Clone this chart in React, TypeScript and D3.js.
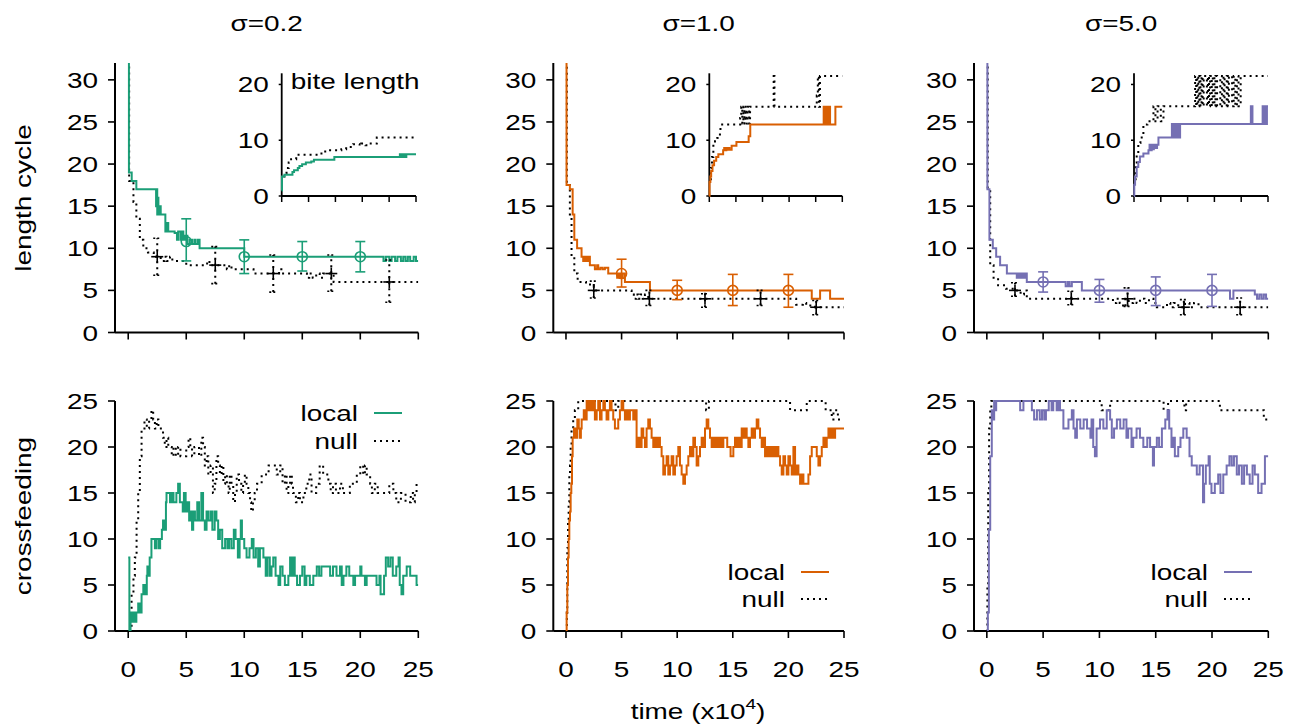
import React from 'react';
import * as d3 from 'd3';

type P = [number, number];

// ---------------- labels / ticks ----------------
const titles = ['σ=0.2', 'σ=1.0', 'σ=5.0'];
const colors = ['#1b9e77', '#d95f02', '#7570b3'];
const timeTicks = [0, 5, 10, 15, 20, 25];
const lenTicks = [0, 5, 10, 15, 20, 25, 30];
const crossTicks = [0, 5, 10, 15, 20, 25];
const biteTicks = [0, 10, 20];
const legendLabels = ['local', 'null'];

// ---------------- length cycle (top) ----------------
const lenLocal02: P[] = [[0,45],[0.06,19],[0.3,18],[0.7,17],[2.4,15],[2.45,17],[2.5,14],[2.55,16],[2.6,14],[2.75,15],[2.8,14],[3.2,12],[3.3,13],[3.45,12],[4.0,11.8],[4.2,11],[4.3,12],[4.5,11],[4.6,12],[4.75,11],[4.9,11.5],[5.1,10.5],[5.3,11],[5.5,10.5],[5.7,11],[5.8,10.5],[6.0,11],[6.15,10],[10.0,9],[22.0,8.5],[22.2,9],[22.5,8.5],[22.7,9],[23.0,8.5],[23.2,9],[23.5,8.5],[23.7,9],[23.9,8.5],[24.1,9],[24.3,8.5],[24.6,9],[24.8,8.5],[25,8.5]];
const lenNull02: P[] = [[0,45],[0.08,18],[0.45,15.5],[0.7,13.5],[1.0,11],[1.3,10],[1.7,9.5],[2.2,9],[2.8,8.5],[3.1,9],[3.3,8.5],[3.6,9],[3.8,8.5],[5.0,8],[6.8,8.5],[7.0,8],[8.5,7.5],[8.7,8],[8.9,7.5],[10.8,7],[13.0,7.5],[13.2,7],[15.4,6.5],[15.6,7],[15.9,6.5],[16.2,7],[16.5,6.5],[16.8,7],[17.7,6],[25,6]];
const lenLocal10: P[] = [[0,45],[0.05,17.5],[0.35,17],[0.6,14],[0.75,11],[1.0,10],[1.4,9],[1.55,8.5],[1.65,9],[1.75,8.5],[1.85,9],[1.95,8.5],[2.05,9],[2.15,8],[2.6,7.5],[2.8,8],[2.9,7.5],[3.1,7.7],[3.3,7.5],[3.5,7.7],[3.8,7],[4.6,6.5],[4.7,7],[4.8,6.5],[4.9,7],[5.0,6.5],[5.1,7],[5.3,6],[7.55,5],[22.1,4],[22.85,5],[23.75,4],[25,4]];
const lenNull10: P[] = [[0,45],[0.08,17.5],[0.35,14],[0.5,9],[0.75,7],[1.05,6],[1.8,5.7],[2.5,5],[5.9,4.5],[6.1,4],[6.3,4.5],[6.5,4],[6.7,4.5],[6.9,4],[7.1,4.5],[7.4,4],[20.7,3.3],[21.3,3.5],[21.6,3.2],[22.4,3],[25,3]];
const lenLocal50: P[] = [[0,45],[0.05,17],[0.23,11],[0.53,10],[0.83,9],[1.18,8],[1.78,7],[2.66,6.5],[2.8,7],[2.95,6.5],[3.1,7],[3.25,6.5],[3.4,7],[3.55,6],[7.0,5.5],[7.2,6],[7.35,5.5],[7.55,6],[8.44,5],[21.6,4],[21.9,5],[23.8,4.5],[24.0,4],[24.2,4.5],[24.4,4],[24.6,4.5],[24.8,4],[25,4]];
const lenNull50: P[] = [[0,45],[0.08,17],[0.3,8],[0.6,6.5],[1.0,5.6],[1.7,5.2],[2.4,5],[3.0,4.5],[3.3,5],[3.55,4],[11.2,3.5],[11.5,4],[11.8,3.5],[12.1,3],[12.3,4],[12.6,3.5],[13.0,4],[13.3,3.5],[13.6,4],[14.0,3.5],[14.4,4],[14.8,3.5],[15.1,3],[16.0,3.5],[16.3,3],[16.6,3.5],[17.0,3],[17.6,3.5],[18.0,3],[18.4,3.5],[18.8,3],[25,3]];

const localMarkT = [5, 10, 15, 20];
const nullMarkT = [2.5, 7.5, 12.5, 17.5, 22.5];
const localMean02 = [10.8, 9, 9, 9];
const localLo02 = [8.5, 7, 7.3, 7.2];
const localHi02 = [13.5, 11, 10.8, 10.8];
const nullMean02 = [9, 8, 7, 7, 6];
const nullLo02 = [6.8, 5.8, 4.8, 4.9, 3.6];
const nullHi02 = [11.2, 10.2, 9.2, 9.2, 8.6];
const localMean10 = [7, 5, 5, 5];
const localLo10 = [5.4, 3.9, 3.2, 3.0];
const localHi10 = [8.7, 6.2, 6.9, 6.9];
const nullMean10 = [5, 4, 4, 4, 3];
const nullLo10 = [4.1, 3.2, 3.0, 3.2, 2.1];
const nullHi10 = [6.1, 5, 4.6, 5, 3.8];
const localMean50 = [6, 5, 5, 5];
const localLo50 = [4.8, 3.6, 3.2, 3.1];
const localHi50 = [7.2, 6.3, 6.6, 6.9];
const nullMean50 = [5, 4, 4, 3, 3];
const nullLo50 = [4.3, 3.3, 3.1, 2.1, 2.1];
const nullHi50 = [5.9, 4.9, 5.3, 3.9, 4.1];

// ---------------- bite length (insets) ----------------
const biteLocal02: P[] = [[0,1],[0.05,3.5],[0.5,3.8],[2.0,4.3],[2.3,4.6],[3.0,5.0],[3.3,5.4],[3.8,5.7],[4.5,6.0],[5.5,6.2],[6.0,6.5],[9.8,7.0],[22.0,7.5],[22.3,7.0],[22.6,7.5],[22.9,7.0],[23.2,7.5],[25,7.5]];
const biteNull02: P[] = [[0.3,3.5],[0.5,4.0],[0.9,5.0],[1.3,6.0],[1.75,6.6],[2.7,7.4],[7.4,8.0],[8.3,8.2],[11.1,8.4],[12.0,8.8],[13.3,9.3],[14.5,9.0],[14.8,9.4],[15.6,9.1],[16.0,9.4],[17.7,10.5],[25,10.5]];
const biteLocal10: P[] = [[0,0],[0.05,2.5],[0.2,3.5],[0.35,4.5],[0.6,5.5],[0.9,6.3],[1.3,7.0],[1.7,7.5],[2.6,8.2],[2.8,8.6],[3.0,8.2],[3.2,8.6],[3.4,8.3],[3.6,8.6],[3.8,8.3],[4.2,9],[5.1,9.7],[7.4,10.7],[7.7,12.8],[21.5,16],[21.8,12.8],[22.0,16],[22.3,12.8],[22.5,16],[22.7,12.8],[23.7,16],[25,16]];
const biteNull10: P[] = [[0.1,3],[0.3,5],[0.5,7],[0.76,9],[1.07,9.8],[1.5,10.4],[2.0,11.5],[2.1,12.8],[5.8,14],[6.0,16],[6.2,13],[6.4,16],[6.6,13],[6.8,16],[7.0,13],[7.2,16],[7.5,13],[7.66,16],[12.1,21.5],[12.25,16],[20.2,18],[20.4,21.5],[20.6,16],[20.8,21.5],[21.1,21.5],[25,21.5]];
const biteLocal50: P[] = [[0,0],[0.05,2],[0.2,3.5],[0.5,5.2],[0.8,6.1],[1.1,7.1],[1.75,7.6],[2.7,8.2],[2.9,9.2],[3.1,8.2],[3.3,9.2],[3.5,8.4],[3.7,9.2],[4.0,8.6],[4.3,9.2],[4.56,10.5],[7.07,12.9],[7.3,10.5],[7.6,12.9],[7.9,10.5],[8.2,12.9],[8.4,10.5],[8.6,12.9],[21.8,16.1],[22.1,12.9],[24.0,16.1],[24.2,12.9],[24.4,16.1],[24.6,12.9],[24.8,16.1],[25,16.1]];
const biteNull50: P[] = [[0.1,3],[0.3,6],[0.5,7.7],[0.8,9.5],[1.2,10.5],[1.75,12.8],[2.5,13.4],[3.63,16.1],[4.0,13.4],[4.4,16.1],[5.0,13.4],[5.5,16.1],[11.4,21.5],[11.6,16.1],[11.8,21.5],[12.0,16.1],[12.2,21.5],[12.4,16.1],[12.6,21.5],[12.8,16.1],[13.0,21.5],[13.6,16.1],[13.8,21.5],[14.0,16.1],[14.2,21.5],[14.5,16.1],[14.7,21.5],[15.0,16.1],[15.2,21.5],[15.5,16.1],[16.1,21.5],[16.4,16.1],[16.7,21.5],[16.9,16.1],[17.3,21.5],[17.5,16.1],[17.7,21.5],[18.3,16.1],[18.6,21.5],[18.9,16.1],[19.2,21.5],[19.5,16.1],[19.9,21.5],[25,21.5]];

// ---------------- crossfeeding (bottom) ----------------
const crossLocal02: P[] = [[0,8],[0.1,0],[0.2,2],[0.35,1],[0.45,2],[0.6,1],[0.7,2],[0.86,3],[1.0,2],[1.15,4],[1.3,5],[1.45,4],[1.6,6],[1.65,7],[1.75,6],[1.85,8],[2.0,10],[2.3,9],[2.45,10],[2.65,9],[2.75,10],[2.9,11],[3.0,12],[3.15,11],[3.25,14],[3.3,15],[3.6,14],[3.75,15],[3.9,14],[4.15,15],[4.3,16],[4.45,14],[4.7,13],[4.8,15],[4.95,13],[5.1,14],[5.25,12],[5.4,13],[5.5,11],[5.6,13],[5.75,12],[5.95,14],[6.1,12],[6.3,15],[6.45,12],[6.6,11],[6.75,13],[6.9,12],[7.1,13],[7.25,11],[7.45,13],[7.6,12],[7.75,10],[7.9,11],[8.1,9],[8.35,10],[8.55,9],[8.7,10],[8.9,9],[9.1,11],[9.25,10],[9.45,8],[9.6,10],[9.7,12],[9.8,10],[10.0,9],[10.2,8],[10.45,9],[10.65,10],[10.8,8],[11.0,9],[11.2,7],[11.35,9],[11.65,8],[11.85,6],[12.0,8],[12.2,6],[12.35,7],[12.5,8],[12.7,6],[12.95,5],[13.1,7],[13.3,6],[13.5,5],[13.8,6],[13.95,8],[14.1,6],[14.2,8],[14.35,6],[14.55,5],[14.8,6],[15.0,7],[15.2,5],[15.35,6],[15.65,5],[15.95,6],[16.25,7],[16.45,6],[16.65,7],[17.4,6],[17.65,7],[17.95,6],[18.25,7],[18.4,5],[18.55,6],[18.8,7],[19.05,6],[19.4,5],[19.55,6],[20.0,7],[20.1,6],[20.4,5],[20.55,6],[21.4,5],[21.65,6],[21.75,4],[22.05,6],[22.2,8],[22.4,7],[22.6,8],[22.8,6],[23.1,7],[23.3,8],[23.4,5],[23.55,4],[23.7,6],[24.0,7],[24.3,6],[24.85,5],[25,5]];
const crossNull02: P[] = [[0.14,0],[0.29,4],[0.45,6],[0.57,8],[0.72,12],[0.86,15],[1.0,19],[1.15,22],[1.4,23],[1.6,22],[1.8,23],[2.0,24],[2.15,23],[2.3,22],[2.45,23],[2.6,22],[2.8,22],[3.0,21],[3.15,20],[3.3,21],[3.45,20],[3.6,20],[3.75,19],[3.9,20],[4.1,19],[4.3,20],[4.5,19],[4.75,19],[5.0,20],[5.2,21],[5.35,20],[5.5,19],[5.7,20],[5.9,20],[6.1,19],[6.3,21],[6.45,20],[6.6,18],[6.75,19],[6.9,17],[7.1,18],[7.3,15],[7.45,16],[7.6,19],[7.75,18],[7.9,17],[8.05,18],[8.2,16],[8.35,17],[8.5,16],[8.65,15],[8.75,17],[8.9,16],[9.05,14],[9.2,15],[9.35,17],[9.55,16],[9.75,15],[9.9,16],[10.05,17],[10.2,16],[10.35,15],[10.5,14],[10.6,13],[10.75,14],[10.9,15],[11.1,16],[11.35,16],[11.5,17],[11.8,17],[12.1,18],[12.5,18],[12.8,17],[13.1,18],[13.3,16],[13.5,17],[13.65,15],[13.8,16],[13.95,17],[14.1,16],[14.2,15],[14.45,14],[14.65,15],[14.8,14],[15.1,15],[15.35,16],[15.6,17],[15.8,15],[16.2,16],[16.5,18],[16.8,17],[17.25,16],[17.45,15],[17.65,16],[17.9,15],[18.25,16],[18.5,15],[19.1,16],[19.7,17],[20.0,18],[20.25,17],[20.4,18],[20.55,17],[20.85,16],[21.0,15],[21.25,16],[21.5,15],[22.5,16],[22.85,15],[23.1,14],[23.5,15],[23.9,14],[24.35,15],[24.55,14],[24.7,15],[24.85,16],[25,16]];
const crossLocal10: P[] = [[0,0],[0.06,2],[0.12,5],[0.18,8],[0.24,10],[0.3,12],[0.36,13],[0.42,15],[0.48,16],[0.54,19],[0.6,21],[0.72,22],[0.9,21],[1.02,23],[1.15,22],[1.26,21],[1.34,22],[1.41,23],[1.6,24],[1.71,23],[1.86,25],[2.0,24],[2.16,25],[2.3,24],[2.46,25],[2.6,23],[2.76,24],[2.9,25],[3.06,23],[3.2,24],[3.36,25],[3.5,24],[3.65,23],[3.81,24],[3.95,25],[4.1,24],[4.25,23],[4.4,22],[4.7,23],[4.85,24],[5.0,25],[5.15,24],[5.3,23],[5.45,24],[5.6,23],[5.75,24],[6.05,23],[6.2,24],[6.35,20],[6.5,21],[6.65,20],[6.8,22],[6.95,21],[7.1,20],[7.25,22],[7.4,23],[7.55,22],[7.7,21],[7.85,20],[8.0,21],[8.15,20],[8.3,21],[8.45,20],[8.6,19],[8.75,17],[8.9,18],[9.05,19],[9.2,17],[9.35,18],[9.5,19],[9.65,17],[9.8,18],[9.95,19],[10.1,20],[10.25,18],[10.4,17],[10.55,16],[10.7,17],[10.85,18],[11.0,19],[11.15,20],[11.3,19],[11.45,21],[11.6,20],[11.75,18],[11.9,19],[12.05,20],[12.2,21],[12.35,20],[12.5,22],[12.65,23],[12.8,22],[12.95,21],[13.1,20],[13.25,21],[13.4,20],[13.55,21],[13.7,20],[13.85,21],[14.0,20],[14.15,21],[14.5,20],[14.8,19],[15.05,20],[15.2,21],[15.35,20],[15.5,21],[15.65,20],[15.8,22],[15.95,21],[16.1,22],[16.25,21],[16.4,20],[16.55,21],[16.7,22],[16.85,21],[17.0,22],[17.15,23],[17.3,22],[17.45,21],[17.6,20],[17.75,21],[17.9,19],[18.05,20],[18.2,19],[18.35,20],[18.5,19],[18.65,20],[18.8,19],[18.95,20],[19.1,19],[19.25,18],[19.4,17],[19.55,19],[19.7,18],[19.85,17],[20.0,19],[20.15,18],[20.3,17],[20.45,20],[20.6,17],[20.75,18],[20.9,17],[21.05,16],[21.2,17],[21.35,16],[21.8,17],[21.95,19],[22.1,20],[22.55,19],[22.7,18],[22.85,19],[23.0,20],[23.15,21],[23.3,20],[23.45,21],[23.6,22],[23.75,21],[23.9,22],[24.05,21],[24.2,22],[25,22]];
const crossNull10: P[] = [[0,0],[0.08,2],[0.12,9],[0.18,12],[0.24,14],[0.3,17],[0.36,18],[0.42,20],[0.5,22],[0.65,23],[0.8,24],[1.1,25],[4.45,24],[4.7,25],[12.6,24],[12.85,25],[20.15,24],[21.65,25],[23.35,24],[23.9,23],[24.05,24],[24.45,23],[25,23]];
const crossLocal50: P[] = [[0,0],[0.09,2],[0.18,11],[0.3,19],[0.44,24],[0.53,23],[0.65,25],[0.74,24],[0.83,25],[2.96,24],[3.25,25],[4.0,24],[4.2,23],[4.45,24],[4.7,23],[4.9,24],[5.1,23],[5.25,24],[5.5,25],[5.75,24],[5.9,25],[6.2,24],[6.35,25],[6.5,24],[6.8,22],[7.25,23],[7.55,24],[7.7,22],[7.85,21],[8.0,23],[8.3,22],[8.6,23],[8.9,22],[9.2,21],[9.3,23],[9.45,20],[9.6,19],[9.75,22],[10.05,23],[10.35,22],[10.65,24],[10.95,23],[11.1,21],[11.3,22],[11.55,23],[11.85,22],[12.15,23],[12.4,21],[12.55,22],[12.85,20],[13.0,21],[13.3,22],[13.6,21],[13.9,20],[14.25,21],[14.5,20],[14.75,18],[14.85,20],[15.1,21],[15.3,20],[15.55,22],[15.85,23],[16.05,24],[16.2,22],[16.4,20],[16.55,21],[16.7,19],[17.0,20],[17.2,21],[17.45,22],[17.75,21],[18.0,19],[18.2,18],[18.65,17],[18.9,18],[19.2,14],[19.3,16],[19.45,18],[19.7,19],[19.8,16],[19.95,15],[20.25,16],[20.55,17],[20.75,15],[21.0,17],[21.3,18],[21.55,19],[21.75,18],[21.95,19],[22.2,17],[22.4,18],[22.65,16],[22.85,18],[23.1,17],[23.35,16],[23.6,18],[23.8,17],[24.1,15],[24.4,16],[24.7,19],[25,19]];
const crossNull50: P[] = [[0,0],[0.05,5],[0.12,15],[0.2,22],[0.3,24],[0.4,25],[10.2,24],[10.95,25],[15.7,24],[16.1,25],[17.55,24],[17.7,25],[20.7,24],[24.6,23],[25,23]];

// ---------------- layout ----------------
const FONT = "'Liberation Sans', Arial, Helvetica, sans-serif";
const FS = 22;
const SX = 1.27;
const panelLeft = [115, 553.3, 974];
const panelRight = [418.3, 844, 1268.3];
const insetLeft = [281.7, 709.3, 1134];
const insetRight = [416, 842.3, 1268];
const TOP_Y: [number, number] = [332.5, 63];
const BOT_Y: [number, number] = [631, 401];
const INS_Y: [number, number] = [196, 73.3];
const legendX = [358, 785, 1208];
const legendY = [[413, 441], [572, 599], [572, 599]];

const lenSeries = [
  { local: lenLocal02, nul: lenNull02, lm: localMean02, ll: localLo02, lh: localHi02, nm: nullMean02, nl: nullLo02, nh: nullHi02, bl: biteLocal02, bn: biteNull02 },
  { local: lenLocal10, nul: lenNull10, lm: localMean10, ll: localLo10, lh: localHi10, nm: nullMean10, nl: nullLo10, nh: nullHi10, bl: biteLocal10, bn: biteNull10 },
  { local: lenLocal50, nul: lenNull50, lm: localMean50, ll: localLo50, lh: localHi50, nm: nullMean50, nl: nullLo50, nh: nullHi50, bl: biteLocal50, bn: biteNull50 },
];
const crossSeries = [
  { local: crossLocal02, nul: crossNull02 },
  { local: crossLocal10, nul: crossNull10 },
  { local: crossLocal50, nul: crossNull50 },
];

const DOT = '2,4';
const DOTW = 2;

function Label({ x, y, anchor = 'middle', rotate = 0, size = FS, children }: any) {
  return (
    <text
      transform={`translate(${x},${y}) rotate(${rotate}) scale(${SX},1)`}
      textAnchor={anchor}
      fontSize={size}
      fontFamily={FONT}
      fill="#000"
    >
      {children}
    </text>
  );
}

function stepPath(data: P[], x: any, y: any) {
  const line = d3
    .line<P>()
    .x((d) => x(d[0]))
    .y((d) => y(d[1]))
    .curve(d3.curveStepAfter);
  return line(data) || '';
}

function Axes({ x, y, xTicks, yTicks, showXLabels, yLabelGap = 17, tick = 7 }: any) {
  const [x0, x1] = x.range();
  const [y0, y1] = y.range();
  return (
    <g>
      <line x1={x0} x2={x0} y1={y0} y2={y1} stroke="#000" strokeWidth={2} />
      <line x1={x0} x2={x1} y1={y0} y2={y0} stroke="#000" strokeWidth={2} />
      {xTicks.map((t: number) => (
        <line key={'xt' + t} x1={x(t)} x2={x(t)} y1={y0} y2={y0 + tick} stroke="#000" strokeWidth={1.6} />
      ))}
      {yTicks.map((t: number) => (
        <line key={'yt' + t} x1={x0 - tick} x2={x0} y1={y(t)} y2={y(t)} stroke="#000" strokeWidth={1.6} />
      ))}
      {yTicks.map((t: number) => (
        <Label key={'yl' + t} x={x0 - yLabelGap} y={y(t) + 8} anchor="end">
          {t}
        </Label>
      ))}
      {showXLabels &&
        xTicks.map((t: number) => (
          <Label key={'xl' + t} x={x(t)} y={677}>
            {t}
          </Label>
        ))}
    </g>
  );
}

export default function App() {
  return (
    <svg
      width={1289}
      height={728}
      viewBox="0 0 1289 728"
      style={{ position: 'absolute', left: 0, top: 0, background: '#fff' }}
    >
      <rect x={0} y={0} width={1289} height={728} fill="#fff" />
      <defs>
        {[0, 1, 2].map((i) => (
          <React.Fragment key={i}>
            <clipPath id={`clipTop${i}`}>
              <rect x={panelLeft[i]} y={TOP_Y[1]} width={panelRight[i] - panelLeft[i]} height={TOP_Y[0] - TOP_Y[1]} />
            </clipPath>
            <clipPath id={`clipBot${i}`}>
              <rect x={panelLeft[i]} y={BOT_Y[1] - 2} width={panelRight[i] - panelLeft[i]} height={BOT_Y[0] - BOT_Y[1] + 2} />
            </clipPath>
          </React.Fragment>
        ))}
      </defs>

      {[0, 1, 2].map((i) => {
        const color = colors[i];
        const s = lenSeries[i];
        const c = crossSeries[i];
        const x = d3.scaleLinear().domain([-1.14, 25]).range([panelLeft[i], panelRight[i]]);
        const yT = d3.scaleLinear().domain([0, 32]).range(TOP_Y);
        const yB = d3.scaleLinear().domain([0, 25]).range(BOT_Y);
        const xi = d3.scaleLinear().domain([0, 25]).range([insetLeft[i], insetRight[i]]);
        const yi = d3.scaleLinear().domain([0, 22]).range(INS_Y);
        const cx = (panelLeft[i] + panelRight[i]) / 2;
        return (
          <g key={i}>
            <Label x={cx} y={31}>{titles[i]}</Label>

            {/* top panel: length cycle */}
            <Axes x={x} y={yT} xTicks={timeTicks} yTicks={lenTicks} showXLabels={false} />
            <g clipPath={`url(#clipTop${i})`}>
              <path d={stepPath(s.nul, x, yT)} fill="none" stroke="#000" strokeWidth={DOTW} strokeDasharray={DOT} />
              <path d={stepPath(s.local, x, yT)} fill="none" stroke={color} strokeWidth={2} />
            </g>
            {nullMarkT.map((t, k) => (
              <g key={'nm' + k} stroke="#000" strokeWidth={1.6} fill="none">
                <line x1={x(t)} x2={x(t)} y1={yT(s.nl[k])} y2={yT(s.nh[k])} strokeDasharray={DOT} strokeWidth={DOTW} />
                <line x1={x(t) - 4} x2={x(t) + 4} y1={yT(s.nl[k])} y2={yT(s.nl[k])} strokeDasharray="2,2" />
                <line x1={x(t) - 4} x2={x(t) + 4} y1={yT(s.nh[k])} y2={yT(s.nh[k])} strokeDasharray="2,2" />
                <line x1={x(t) - 6} x2={x(t) + 6} y1={yT(s.nm[k])} y2={yT(s.nm[k])} />
                <line x1={x(t)} x2={x(t)} y1={yT(s.nm[k]) - 6} y2={yT(s.nm[k]) + 6} />
              </g>
            ))}
            {localMarkT.map((t, k) => (
              <g key={'lm' + k} stroke={color} strokeWidth={1.6} fill="none">
                <line x1={x(t)} x2={x(t)} y1={yT(s.ll[k])} y2={yT(s.lh[k])} />
                <line x1={x(t) - 5} x2={x(t) + 5} y1={yT(s.ll[k])} y2={yT(s.ll[k])} />
                <line x1={x(t) - 5} x2={x(t) + 5} y1={yT(s.lh[k])} y2={yT(s.lh[k])} />
                <circle cx={x(t)} cy={yT(s.lm[k])} r={5} />
              </g>
            ))}

            {/* inset: bite length */}
            <g>
              <line x1={xi(0)} x2={xi(0)} y1={yi(0)} y2={yi(22)} stroke="#000" strokeWidth={1.8} />
              <line x1={xi(0)} x2={xi(25)} y1={yi(0)} y2={yi(0)} stroke="#000" strokeWidth={1.8} />
              {timeTicks.map((t) => (
                <line key={'it' + t} x1={xi(t)} x2={xi(t)} y1={yi(0)} y2={yi(0) + 6} stroke="#000" strokeWidth={1.5} />
              ))}
              {biteTicks.map((t) => (
                <line key={'iy' + t} x1={xi(0) - 3} x2={xi(0)} y1={yi(t)} y2={yi(t)} stroke="#000" strokeWidth={1.5} />
              ))}
              {biteTicks.map((t) => (
                <Label key={'il' + t} x={xi(0) - 13} y={yi(t) + 8} anchor="end">
                  {t}
                </Label>
              ))}
              <path d={stepPath(s.bn, xi, yi)} fill="none" stroke="#000" strokeWidth={DOTW} strokeDasharray={DOT} />
              <path d={stepPath(s.bl, xi, yi)} fill="none" stroke={color} strokeWidth={2} />
              {i === 0 && (
                <Label x={xi(0) + 9} y={89} anchor="start">
                  bite length
                </Label>
              )}
            </g>

            {/* bottom panel: crossfeeding */}
            <Axes x={x} y={yB} xTicks={timeTicks} yTicks={crossTicks} showXLabels={true} />
            <g clipPath={`url(#clipBot${i})`}>
              <path d={stepPath(c.nul, x, yB)} fill="none" stroke="#000" strokeWidth={DOTW} strokeDasharray={DOT} />
              <path d={stepPath(c.local, x, yB)} fill="none" stroke={color} strokeWidth={2} />
            </g>
            {/* legend */}
            <Label x={legendX[i]} y={legendY[i][0] + 8} anchor="end">{legendLabels[0]}</Label>
            <line x1={legendX[i] + 16} x2={legendX[i] + 44} y1={legendY[i][0]} y2={legendY[i][0]} stroke={color} strokeWidth={2} />
            <Label x={legendX[i]} y={legendY[i][1] + 8} anchor="end">{legendLabels[1]}</Label>
            <line x1={legendX[i] + 16} x2={legendX[i] + 44} y1={legendY[i][1]} y2={legendY[i][1]} stroke="#000" strokeWidth={DOTW} strokeDasharray={DOT} />
          </g>
        );
      })}

      <Label x={31} y={198} rotate={-90}>length cycle</Label>
      <Label x={31} y={516} rotate={-90}>crossfeeding</Label>
      <Label x={698} y={719}>
        <tspan>time (x10</tspan>
        <tspan dy={-10} fontSize={15}>4</tspan>
        <tspan dy={10}>)</tspan>
      </Label>
    </svg>
  );
}
